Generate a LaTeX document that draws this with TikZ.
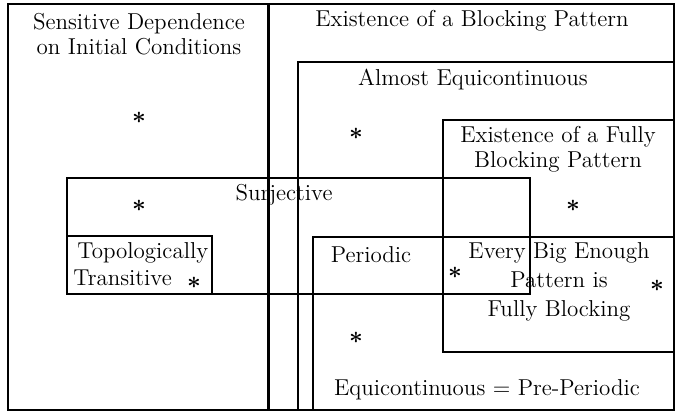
\documentclass[tikz,border=0pt]{standalone}
\begin{document}
\begin{tikzpicture}[x=0.5pt,y=-0.5pt,
  box/.style={draw=black,line width=0.55pt},
  lbl/.style={font=\fontsize{11.5}{13.5}\selectfont,inner sep=0pt,align=center},
  star/.style={font=\fontsize{13}{13}\selectfont\boldmath,inner sep=0pt}]
\useasboundingbox (0,0) rectangle (677,412);
% outer
\draw[box] (8,4) rectangle (674,410);
% thick divider
\draw[line width=1.5pt] (269,4) -- (269,410);
% almost equicontinuous
\draw[box] (298,62) rectangle (674,410);
% fully blocking pattern
\draw[box] (443,120) rectangle (674,352);
% surjective
\draw[box] (67,178) rectangle (530,294);
% topologically transitive
\draw[box] (67,236) rectangle (212,294);
% equicontinuous
\draw[box] (313,237) rectangle (674,410);
% labels
\node[lbl] (sdic) at (139,34) {Sensitive Dependence\\[-1pt]on Initial Conditions};
\node[lbl] (ebp) at (472,21) {Existence of a Blocking Pattern};
\node[lbl] (ae) at (473,80) {Almost Equicontinuous};
\node[lbl] (efbp) at (558,149) {Existence of a Fully\\[-1pt]Blocking Pattern};
\node[lbl] (surj) at (284,195) {Surjective};
\node[lbl,anchor=west] (tt1) at (77,253) {Topologically};
\node[lbl,anchor=west] (tt2) at (73,278) {Transitive};
\node[lbl] (per) at (371,255) {Periodic};
\node[lbl,align=center] (ebe) at (559,282) {Every Big Enough\\[1pt]Pattern is\\[1pt]Fully Blocking};
\node[lbl] (eq) at (487,390) {Equicontinuous = Pre-Periodic};
% stars
\node[star] (s1) at (139,118) {$*$};
\node[star] (s2) at (356,134) {$*$};
\node[star] (s3) at (139,206) {$*$};
\node[star] (s4) at (573,206) {$*$};
\node[star] (s5) at (194,283) {$*$};
\node[star] (s6) at (455,273) {$*$};
\node[star] (s7) at (657,286) {$*$};
\node[star] (s8) at (356,338) {$*$};
\end{tikzpicture}
\end{document}
